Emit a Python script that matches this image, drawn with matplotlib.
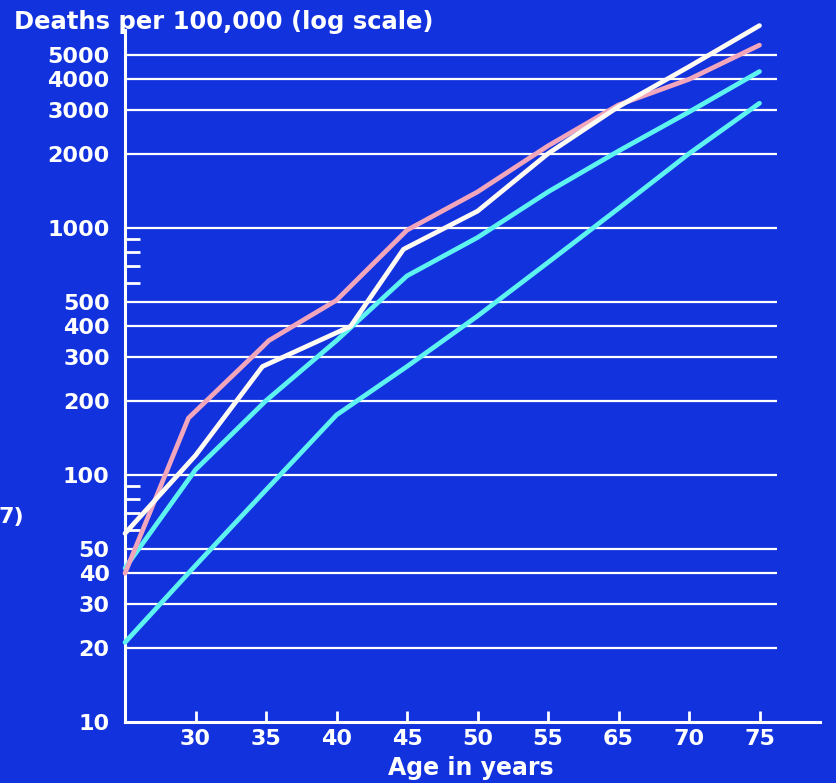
"""
Death rates per 100,000 by age, log scale, slide-style chart on a blue background.
"""

import matplotlib

matplotlib.use("Agg")
import matplotlib.pyplot as plt
import numpy as np

# Axis layout: ages are evenly spaced on the slide, with a jump from 55 to 65
TICK_AGES = [25, 30, 35, 40, 45, 50, 55, 65, 70, 75]
TICK_LABELS = ["30", "35", "40", "45", "50", "55", "65", "70", "75"]
Y_MAJOR = [10, 20, 30, 40, 50, 100, 200, 300, 400, 500, 1000, 2000, 3000, 4000, 5000]
Y_MINOR = [60, 70, 80, 90, 600, 700, 800, 900]
GRID_VALUES = [20, 30, 40, 50, 100, 200, 300, 400, 500, 1000, 2000, 3000, 4000, 5000]

# Curves (age, deaths per 100,000)
PINK_AGES = [25, 29.5, 34.75, 35.2, 40, 45, 50, 55, 65, 70, 75]
PINK_VALUES = [40, 170, 330, 350, 510, 980, 1400, 2150, 3150, 4000, 5500]

WHITE_AGES = [25, 30, 34.75, 41, 44.75, 50, 55, 65, 70, 75]
WHITE_VALUES = [58, 120, 275, 400, 820, 1170, 2000, 3100, 4500, 6600]

CYAN_HIGH_AGES = [25, 30, 35, 40, 45, 50, 55, 65, 70, 75]
CYAN_HIGH_VALUES = [42, 105, 200, 350, 640, 915, 1400, 2050, 2950, 4300]

CYAN_LOW_AGES = [25, 30, 35, 40, 45, 50, 55, 65, 70, 75]
CYAN_LOW_VALUES = [21, 43, 87, 175, 275, 440, 725, 1200, 2000, 3200]

BG = "#1232de"
PINK = "#f2a6bc"
WHITE = "#fffaf2"
CYAN = "#5ef2f0"
FONT = {"family": "DejaVu Sans", "weight": "bold", "color": "white"}


def age_to_x(ages):
    """Map ages onto the evenly spaced slide positions."""
    return np.interp(ages, TICK_AGES, np.arange(len(TICK_AGES)))


W, H = 837, 783
fig = plt.figure(figsize=(W / 100, H / 100), dpi=100, facecolor=BG)
ax = fig.add_axes([125 / W, 61 / H, (820 - 125) / W, (773 - 61) / H])
ax.set_facecolor(BG)

ax.set_yscale("log")
ax.set_ylim(10, 10 ** (1 + 712 / 247))
ax.set_xlim(0, (820 - 125) / 70.5)

ax.hlines(GRID_VALUES, 0, 9.25, color="white", lw=1.6, zorder=1)

for ages, vals, col in [
    (CYAN_LOW_AGES, CYAN_LOW_VALUES, CYAN),
    (CYAN_HIGH_AGES, CYAN_HIGH_VALUES, CYAN),
    (PINK_AGES, PINK_VALUES, PINK),
    (WHITE_AGES, WHITE_VALUES, WHITE),
]:
    ax.plot(age_to_x(ages), vals, color=col, lw=3.4, solid_capstyle="round",
            solid_joinstyle="round", clip_on=False, zorder=3)

# spines
for side in ["top", "right"]:
    ax.spines[side].set_visible(False)
ax.spines["left"].set_color("white")
ax.spines["bottom"].set_color("white")
ax.spines["left"].set_linewidth(2.2)
ax.spines["bottom"].set_linewidth(2.2)
ax.spines["left"].set_bounds(10, 10 ** (1 + 692 / 247))

# ticks
ax.set_xticks(age_to_x(TICK_AGES[1:]))
ax.set_xticklabels(TICK_LABELS, fontdict=FONT, fontsize=16)
ax.tick_params(axis="x", direction="in", length=8, width=2, color="white", pad=5)

ax.yaxis.set_major_locator(matplotlib.ticker.FixedLocator(Y_MAJOR))
ax.yaxis.set_minor_locator(matplotlib.ticker.FixedLocator(Y_MINOR))
ax.yaxis.set_minor_formatter(matplotlib.ticker.NullFormatter())
ax.set_yticklabels([str(v) for v in Y_MAJOR], fontdict=FONT, fontsize=16)
ax.tick_params(axis="y", which="major", length=0, pad=11)
ax.tick_params(axis="y", which="minor", direction="in", length=11, width=2, color="white")

fig.text(14 / W, 1 - 22 / H, "Deaths per 100,000 (log scale)", fontsize=17.5,
         ha="left", va="center", **FONT)
fig.text(471 / W, 1 - 768 / H, "Age in years", fontsize=17, ha="center", va="center", **FONT)
fig.text(24 / W, 1 - 517 / H, "7)", fontsize=16, ha="right", va="center", **FONT)

fig.savefig("out.png", dpi=100, facecolor=BG)
